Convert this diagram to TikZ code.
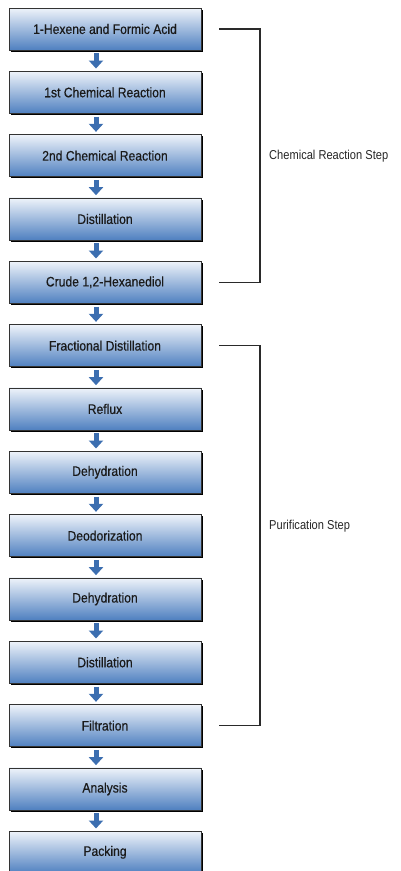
\documentclass[tikz,border=0pt]{standalone}
\usepackage{fontspec}
\setmainfont{Liberation Sans}
\newfontfamily\boxfont{Liberation Sans}[FakeStretch=0.88,FakeBold=0.5]
\newfontfamily\labfont{Liberation Sans}[FakeStretch=0.86]
\usetikzlibrary{arrows.meta,calc,shadows}
\definecolor{boxtop}{HTML}{EEF3FA}
\definecolor{boxbot}{HTML}{4F80C0}
\definecolor{arrowc}{HTML}{3C6EB0}
\definecolor{txtc}{HTML}{1A1A1A}
\definecolor{brk}{HTML}{2A2A2A}
\tikzset{
  box/.style={draw=black!80, line width=0.8pt, top color=boxtop, bottom color=boxbot,
    minimum width=192pt, minimum height=42pt, inner sep=0pt,
    font=\boxfont\fontsize{13.8}{15}\selectfont, text=txtc,
    drop shadow={shadow xshift=1.6pt, shadow yshift=-1.6pt, fill=black, opacity=1}},
  flow/.style={draw=arrowc, line width=5pt, -{Triangle[width=14pt,length=8pt]}, shorten <=2pt, shorten >=2pt},
  bracket/.style={draw=brk, line width=1.1pt},
  steplabel/.style={anchor=west, inner sep=0pt, font=\labfont\fontsize{12.9}{14}\selectfont, text=black!85}
}
\begin{document}
\begin{tikzpicture}[x=1pt,y=1pt]
\useasboundingbox (0,0) rectangle (401,-871);
\foreach \i/\t in {1/{1-Hexene and Formic Acid},2/{1st Chemical Reaction},3/{2nd Chemical Reaction},4/{Distillation},5/{Crude 1,2-Hexanediol},6/{Fractional Distillation},7/{Reflux},8/{Dehydration},9/{Deodorization},10/{Dehydration},11/{Distillation},12/{Filtration},13/{Analysis},14/{Packing}}{
  \node[box] (b\i) at (105, {-29-63.33*(\i-1)}) {\t};
}
\foreach \i [evaluate=\i as \j using int(\i+1)] in {1,...,13}{
  \draw[flow] ($(b\i.south)+(-9,-0.8)$) -- ($(b\j.north)+(-9,0.4)$);
}
% brackets
\coordinate (c1) at ($(b1.east)+(18,0)$);
\coordinate (c5) at ($(b5.east)+(18,0)$);
\coordinate (v1) at (260,0);
\draw[bracket] (c1) -- (c1 -| v1) -- (c5 -| v1) -- (c5);
\node[steplabel] (l1) at (269,-156.5) {Chemical Reaction Step};
\coordinate (c6) at ($(b6.east)+(18,0)$);
\coordinate (c12) at ($(b12.east)+(18,0)$);
\draw[bracket] (c6) -- (c6 -| v1) -- (c12 -| v1) -- (c12);
\node[steplabel] (l2) at (269,-525.7) {Purification Step};
\end{tikzpicture}
\end{document}
